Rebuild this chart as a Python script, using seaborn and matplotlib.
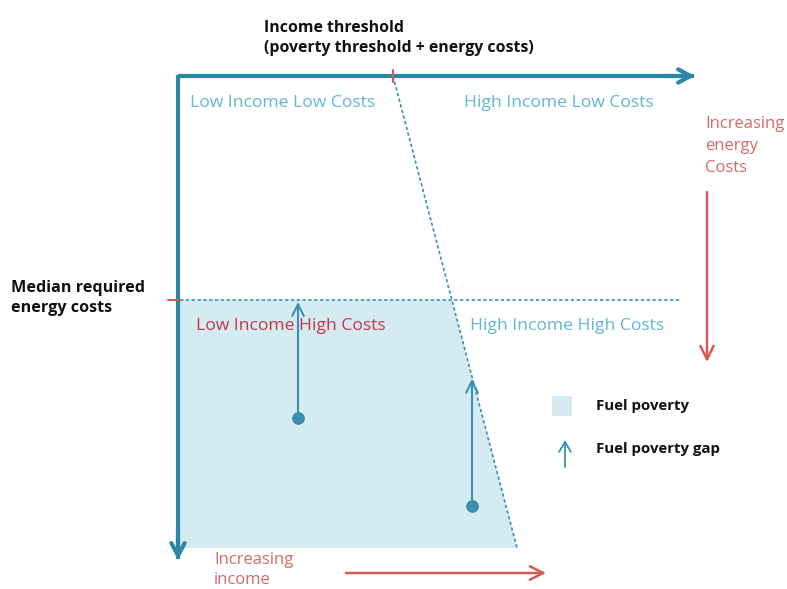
import matplotlib
matplotlib.use("Agg")
import matplotlib.pyplot as plt
import seaborn as sns
import pandas as pd

sns.set_theme(style="white")
plt.rcParams['font.family'] = ['Open Sans', 'DejaVu Sans']

# Diagram geometry (pixel-like coordinates, y downward)
axis_origin = (178, 76)
axis_x_end = 695
axis_y_end = 560
threshold_top = (393, 76)
threshold_bottom = (517, 548)
median_y = 300
fill_bottom = 548

# Fuel poverty gap examples: household position (x, y)
gap_x = [298, 472]
gap_y = [418, 506]

quadrant_labels = ["Low Income Low Costs", "High Income Low Costs",
                   "Low Income High Costs", "High Income High Costs"]
quadrant_x = [190, 464, 196, 470]
quadrant_y = [103, 103, 326, 326]
quadrant_colors = ["#62b6d1", "#62b6d1", "#c8334a", "#62b6d1"]

TEAL = "#2b87a3"
TEAL_D = "#3b90b0"
LIGHT = "#d5ebf2"
RED = "#d35a55"
RED_T = "#d46a66"

fig = plt.figure(figsize=(7.87, 5.89), dpi=100)
ax = fig.add_axes([0, 0, 1, 1])

def thr_x(y):
    (x0, y0), (x1, y1) = threshold_top, threshold_bottom
    return x0 + (y - y0) / (y1 - y0) * (x1 - x0)

def thr_y(x):
    (x0, y0), (x1, y1) = threshold_top, threshold_bottom
    return y0 + (x - x0) / (x1 - x0) * (y1 - y0)

# fuel poverty area
xm = thr_x(median_y)
ax.fill([180, xm, threshold_bottom[0], 180], [median_y, median_y, fill_bottom, fill_bottom],
        color=LIGHT, lw=0, zorder=1)

# axes arrows
ax.plot([axis_origin[0], axis_x_end - 1], [axis_origin[1]] * 2, color=TEAL, lw=3,
        solid_capstyle="butt", zorder=5)
ax.plot([axis_origin[0]] * 2, [axis_origin[1] - 1.5, axis_y_end - 1], color=TEAL, lw=3,
        solid_capstyle="butt", zorder=5)
ax.annotate("", xy=(axis_x_end, axis_origin[1]), xytext=(axis_x_end - 30, axis_origin[1]),
            arrowprops=dict(arrowstyle="->,head_length=0.75,head_width=0.4", color=TEAL, lw=3,
                            shrinkA=0, shrinkB=0), zorder=5)
ax.annotate("", xy=(axis_origin[0], axis_y_end), xytext=(axis_origin[0], axis_y_end - 30),
            arrowprops=dict(arrowstyle="->,head_length=0.75,head_width=0.4", color=TEAL, lw=3,
                            shrinkA=0, shrinkB=0), zorder=5)

# threshold dashed line
ax.plot([threshold_top[0], threshold_bottom[0]], [threshold_top[1], threshold_bottom[1]],
        ls=(0, (2, 1.5)), color=TEAL_D, lw=1.2, zorder=3)
ax.plot([393, 393], [70, 82], color=RED, lw=1.5, zorder=6)

# median dashed line
ax.plot([180, 680], [median_y, median_y], ls=(0, (2, 1.5)), color=TEAL_D, lw=1.2, zorder=3)
ax.plot([168, 180], [median_y, median_y], color=RED, lw=1.5, zorder=6)

# gap arrows
for gx, gy in zip(gap_x, gap_y):
    ytop = median_y if gx < xm else thr_y(gx)
    ax.annotate("", xy=(gx, ytop + 2), xytext=(gx, gy),
                arrowprops=dict(arrowstyle="->,head_length=0.7,head_width=0.35", color=TEAL_D, lw=1.5,
                                shrinkA=0, shrinkB=0), zorder=4)
dots = pd.DataFrame({"x": gap_x, "y": gap_y})
sns.scatterplot(data=dots, x="x", y="y", ax=ax, s=70, color=TEAL_D, edgecolor=TEAL, zorder=7, legend=False)
ax.set_xlim(0, 787)
ax.set_ylim(589, 0)
ax.axis("off")

# quadrant labels
for lab, x, y, c in zip(quadrant_labels, quadrant_x, quadrant_y, quadrant_colors):
    ax.text(x, y, lab, color=c, fontsize=12.6, va="center", ha="left", zorder=8)

# titles
ax.text(264, 38, "Income threshold\n(poverty threshold + energy costs)", fontsize=11.4,
        fontweight="bold", color="#111111", va="center", ha="left", linespacing=1.3)
ax.text(11, 298, "Median required\nenergy costs", fontsize=11.6, fontweight="bold",
        color="#111111", va="center", ha="left", linespacing=1.3)

# increasing energy costs
ax.text(705, 146, "Increasing\nenergy\nCosts", fontsize=12, color=RED_T, va="center", ha="left",
        linespacing=1.5)
ax.annotate("", xy=(707, 362), xytext=(707, 192),
            arrowprops=dict(arrowstyle="->,head_length=0.8,head_width=0.4", color=RED, lw=1.8,
                            shrinkA=0, shrinkB=0))

# increasing income
ax.text(214, 570, "Increasing\nincome", fontsize=12, color=RED_T, va="center", ha="left",
        linespacing=1.3)
ax.annotate("", xy=(546, 573), xytext=(346, 573),
            arrowprops=dict(arrowstyle="->,head_length=0.8,head_width=0.4", color=RED, lw=1.8,
                            shrinkA=0, shrinkB=0))

# legend
ax.fill([552, 572, 572, 552], [396, 396, 416, 416], color=LIGHT, lw=0)
ax.text(596, 406, "Fuel poverty", fontsize=10.8, fontweight="bold", color="#111111", va="center")
ax.annotate("", xy=(565, 440), xytext=(565, 467),
            arrowprops=dict(arrowstyle="->,head_length=0.6,head_width=0.35", color=TEAL_D, lw=1.3,
                            shrinkA=0, shrinkB=0))
ax.text(596, 449, "Fuel poverty gap", fontsize=10.8, fontweight="bold", color="#111111", va="center")

fig.savefig("out.png", dpi=100)
